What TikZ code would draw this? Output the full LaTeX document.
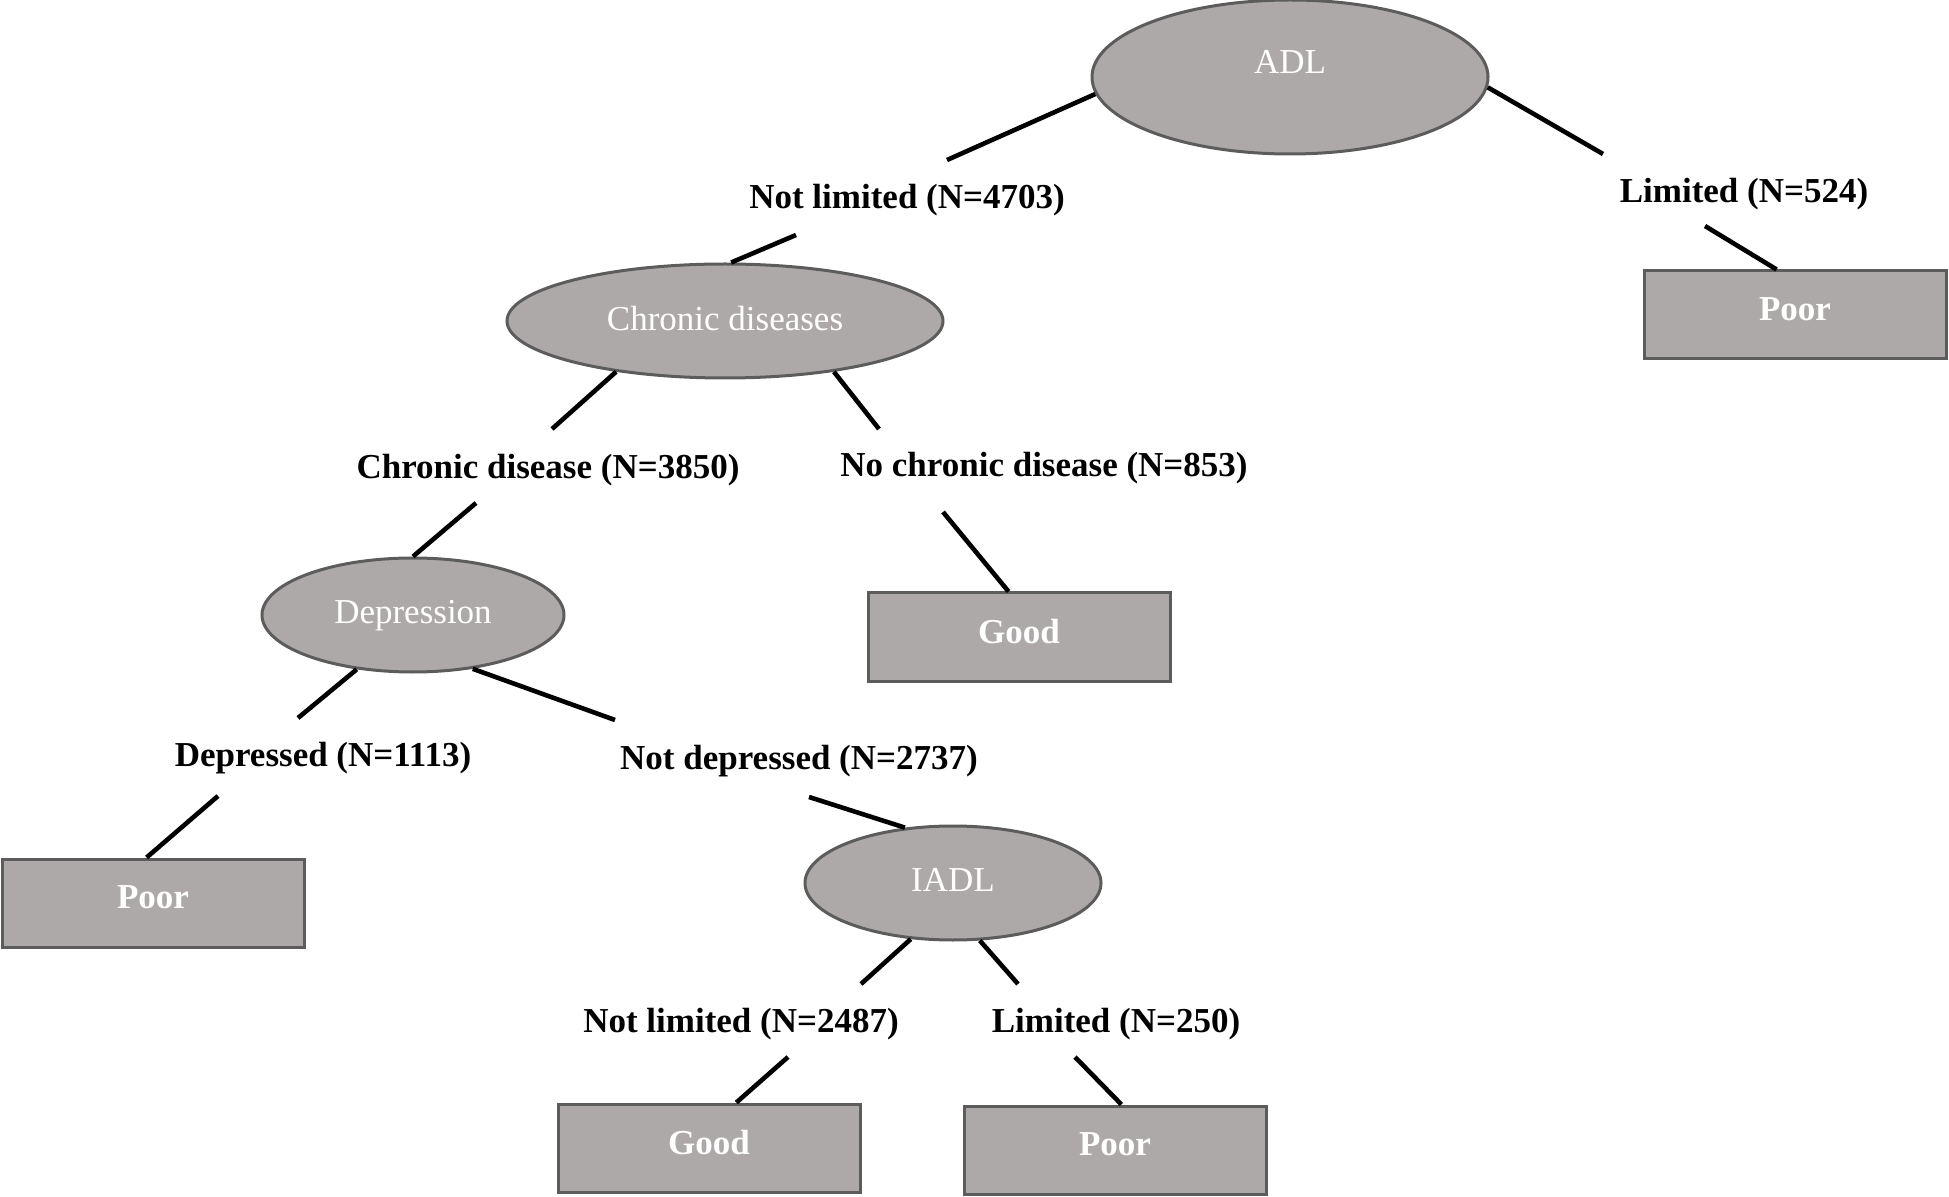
\documentclass[tikz,border=0pt]{standalone}
\usepackage{fontspec}
\setmainfont{Liberation Serif}
\usetikzlibrary{shapes.geometric}
\definecolor{nodefill}{HTML}{ADA9A8}
\definecolor{nodeline}{HTML}{5C5C5C}
\begin{document}
\begin{tikzpicture}[x=0.5pt,y=-0.5pt,
 split/.style={ellipse, draw=nodeline, fill=nodefill, line width=1.5pt, inner sep=0pt, text=white, text depth=3pt, minimum height=57pt, font=\fontsize{17.5}{20}\selectfont},
 leaf/.style={rectangle, draw=nodeline, fill=nodefill, line width=1.5pt, inner sep=0pt, text=white, text depth=6pt, minimum width=151pt, minimum height=44pt, font=\fontsize{17.5}{20}\selectfont\bfseries},
 lab/.style={inner sep=0pt, yshift=-2pt, font=\fontsize{17.5}{20}\selectfont\bfseries},
 conn/.style={line width=2.3pt, black}]
\useasboundingbox (0,0) rectangle (1949,1197);
% split nodes
\node[split, minimum width=198pt, minimum height=77pt] (adl) at (1290,77) {};
\node[text=white, inner sep=0pt, font=\fontsize{17.5}{20}\selectfont] (adltext) at (1290,62) {ADL};
\node[split, minimum width=218pt] (chr) at (725,321) {Chronic diseases};
\node[split, minimum width=151pt] (dep) at (413,615) {Depression};
\node[split, minimum width=148pt] (iadl) at (953,883) {IADL};
% leaves
\node[leaf] (poorR) at (1795,315) {Poor};
\node[leaf] (goodM) at (1019,637) {Good};
\node[leaf] (poorL) at (153,903) {Poor};
\node[leaf] (goodB) at (709,1148) {Good};
\node[leaf] (poorB) at (1115,1150) {Poor};
% labels
\node[lab] (l1) at (907,196) {Not limited (N=4703)};
\node[lab] (l2) at (1744,190) {Limited (N=524)};
\node[lab] (l3) at (548,466) {Chronic disease (N=3850)};
\node[lab] (l4) at (1044,464) {No chronic disease (N=853)};
\node[lab] (l5) at (323,754) {Depressed (N=1113)};
\node[lab] (l6) at (799,757) {Not depressed (N=2737)};
\node[lab] (l7) at (741,1020) {Not limited (N=2487)};
\node[lab] (l8) at (1116,1020) {Limited (N=250)};
% free ends
\coordinate (a1) at (947,160); \coordinate (a2) at (796,235);
\coordinate (b1) at (1603,154); \coordinate (b2) at (1705,226);
\coordinate (c1) at (552,429); \coordinate (c2) at (476,503);
\coordinate (d1) at (879,429); \coordinate (d2) at (943,512);
\coordinate (e1) at (298,718); \coordinate (e2) at (218,796);
\coordinate (f1) at (615,720); \coordinate (f2) at (809,797);
\coordinate (g1) at (861,984); \coordinate (g2) at (788,1057);
\coordinate (h1) at (1018,984); \coordinate (h2) at (1075,1057);
% connectors
\draw[conn] (adl.185) -- (a1);
\draw[conn] (a2) -- (chr.84);
\draw[conn] (adl.-3) -- (b1);
\draw[conn] (b2) -- (poorR.112);
\draw[conn] (chr.205) -- (c1);
\draw[conn] (c2) -- (dep.90);
\draw[conn] (chr.335) -- (d1);
\draw[conn] (d2) -- (goodM.103);
\draw[conn] (dep.224) -- (e1);
\draw[conn] (e2) -- (poorL.98);
\draw[conn] (dep.318) -- (f1);
\draw[conn] (f2) -- (iadl.131);
\draw[conn] (iadl.233) -- (g1);
\draw[conn] (g2) -- (goodB.59);
\draw[conn] (iadl.295) -- (h1);
\draw[conn] (h2) -- (poorB.82);
\end{tikzpicture}
\end{document}
